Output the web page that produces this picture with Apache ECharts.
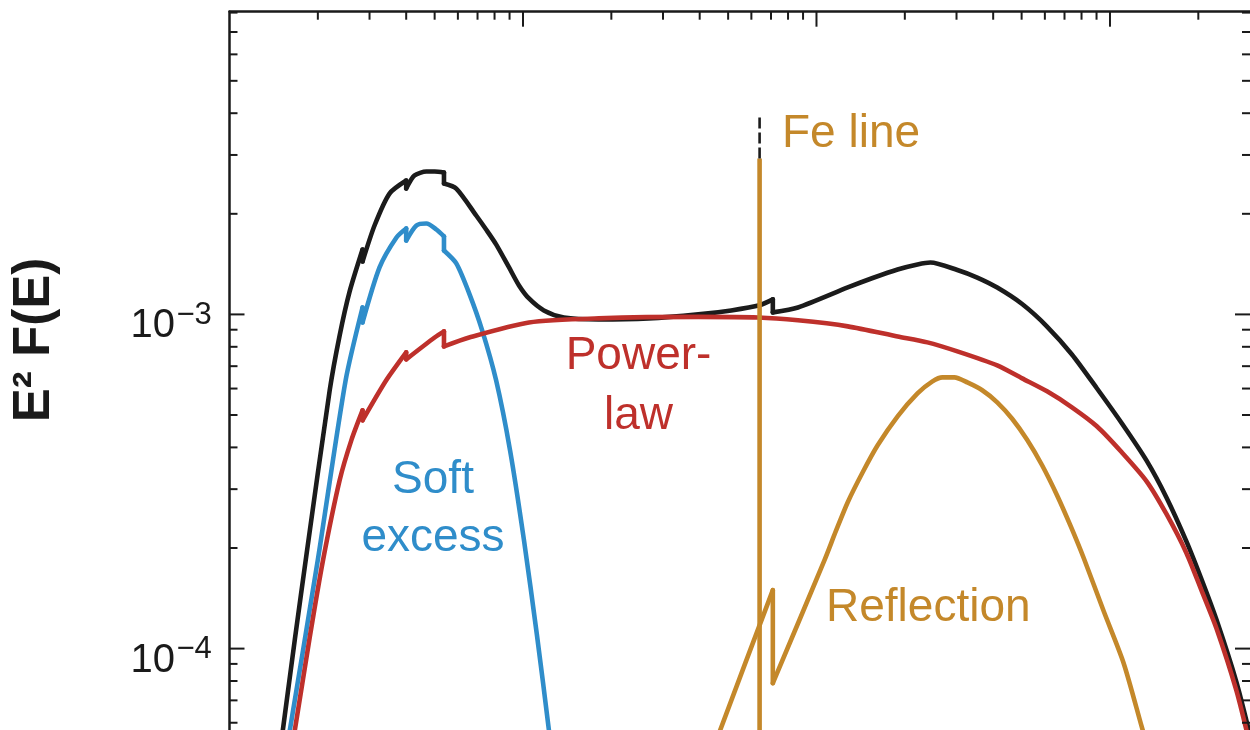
<!DOCTYPE html>
<html>
<head>
<meta charset="utf-8">
<script src="https://cdn.jsdelivr.net/npm/echarts@6/dist/echarts.min.js"></script>
<style>
  html, body { margin: 0; padding: 0; background: #ffffff; overflow: hidden; }
  /* the plot continues below the visible window, so the canvas is taller than the view */
  #chart { width: 1250px; height: 830px; }
</style>
</head>
<body>
<div id="chart"></div>
<script>
// Spectral decomposition: energy in keV, flux as E^2 F(E)
// A repeated energy marks an absorption edge (a vertical step in the curve).

// Total model (black)
const totalEnergy = [0.1428, 0.1520, 0.167, 0.1834, 0.2195, 0.2373, 0.2567, 0.284, 0.284, 0.3120, 0.3509,
  0.40, 0.40, 0.4266, 0.4687, 0.50, 0.538, 0.538, 0.5925, 0.6927, 0.7488, 0.8098, 0.8964, 0.9692,
  1.048, 1.178, 1.378, 1.811, 2.677, 3.958, 5.122, 6.4, 7.1, 7.1, 8.648, 12.78, 15.54, 18.9, 22.09,
  24.45, 30.2, 35.3, 41.29, 50.2, 61.04, 74.2, 90.2, 109.7, 133.3, 155.9, 182.3, 204.9, 230.5, 269.4, 300];
const totalFlux = [3.83e-5, 5.71e-5, 1.067e-4, 1.943e-4, 0.593e-3, 0.865e-3, 1.172e-3, 1.564e-3, 1.44e-3,
  1.845e-3, 2.299e-3, 2.515e-3, 2.38e-3, 2.603e-3, 2.676e-3, 2.676e-3, 2.657e-3, 2.464e-3, 2.38e-3,
  1.977e-3, 1.795e-3, 1.62e-3, 1.382e-3, 1.221e-3, 1.116e-3, 1.028e-3, 0.979e-3, 0.966e-3, 0.973e-3,
  1.0e-3, 1.028e-3, 1.065e-3, 1.109e-3, 1.014e-3, 1.049e-3, 1.204e-3, 1.285e-3, 1.363e-3, 1.411e-3,
  1.43e-3, 1.358e-3, 1.289e-3, 1.203e-3, 1.074e-3, 0.92e-3, 0.7588e-3, 0.6013e-3, 0.4725e-3,
  0.3651e-3, 0.2829e-3, 0.209e-3, 0.1615e-3, 0.1222e-3, 7.97e-5, 5.51e-5];

// Power-law continuum (red)
const powerEnergy = [0.1532, 0.1670, 0.1877, 0.2078, 0.2373, 0.2607, 0.284, 0.284, 0.342, 0.40, 0.40,
  0.50, 0.538, 0.538, 0.6556, 1.048, 1.811, 3.958, 6.326, 8.648, 12.78, 18.9, 23.88, 30.2, 41.29,
  50.2, 61.04, 74.2, 90.2, 109.7, 133.3, 155.9, 182.3, 204.9, 230.5, 269.4, 300];
const powerFlux = [3.6e-5, 5.71e-5, 1.082e-4, 1.819e-4, 3.189e-4, 4.228e-4, 5.164e-4, 4.82e-4, 6.35e-4,
  7.697e-4, 7.337e-4, 8.53e-4, 8.896e-4, 8.02e-4, 8.53e-4, 9.46e-4, 9.73e-4, 9.83e-4, 9.79e-4,
  9.6e-4, 9.21e-4, 8.59e-4, 8.248e-4, 7.752e-4, 7.039e-4, 6.436e-4, 5.885e-4, 5.272e-4, 4.627e-4,
  3.867e-4, 3.167e-4, 2.524e-4, 1.93e-4, 1.496e-4, 1.151e-4, 7.51e-5, 5.15e-5];

// Soft excess (blue)
const softEnergy = [0.1474, 0.1606, 0.1999, 0.2487, 0.284, 0.284, 0.3245, 0.3706, 0.40, 0.40, 0.4334,
  0.4687, 0.5068, 0.538, 0.538, 0.5925, 0.6556, 0.7259, 0.8099, 0.9035, 1.0078, 1.1157, 1.2254, 1.3044];
const softFlux = [3.6e-5, 5.71e-5, 1.839e-4, 6.35e-4, 1.049e-3, 0.946e-3, 1.382e-3, 1.699e-3, 1.807e-3,
  1.664e-3, 1.846e-3, 1.871e-3, 1.795e-3, 1.711e-3, 1.553e-3, 1.421e-3, 1.156e-3, 0.896e-3, 0.635e-3,
  0.3921e-3, 0.211e-3, 0.1097e-3, 5.71e-5, 3.52e-5];

// Reflection hump (gold)
const reflEnergy = [3.86, 4.70, 7.1, 7.1, 10.65, 11.64, 12.78, 14.37, 16.16, 18.9, 22.09, 24.84, 26.86,
  29.50, 32.66, 36.71, 41.29, 46.42, 52.2, 58.71, 66.0, 73.6, 81.5, 95.3, 111.4, 128.2, 147.5];
const reflFlux = [3.52e-5, 5.71e-5, 1.496e-4, 7.88e-5, 1.84e-4, 2.245e-4, 2.742e-4, 3.37e-4, 4.058e-4,
  4.955e-4, 5.803e-4, 6.305e-4, 6.48e-4, 6.48e-4, 6.26e-4, 5.93e-4, 5.456e-4, 4.871e-4, 4.214e-4,
  3.537e-4, 2.877e-4, 2.316e-4, 1.86e-4, 1.291e-4, 9.03e-5, 5.85e-5, 3.79e-5];

// Fe K line (gold) and the part of the total that rises above it (black, dashed)
const feEnergy = [6.4, 6.4];
const feFlux = [1e-5, 2.93e-3];
const totalPeakEnergy = [6.4, 6.4];
const totalPeakFlux = [2.93e-3, 3.94e-3];

// Axis ranges and labelled decades
const xMin = 0.1, xMax = 300;
const yMin = Math.pow(10, -4.5), yMax = 8.05e-3;
const yTickValues = [1e-4, 1e-3];
const yTickLabels = [['10', '\u22124'], ['10', '\u22123']];

const COLORS = {
  total: '#1b1b1b',
  power: '#be302b',
  soft: '#2f8dca',
  refl: '#c4882a'
};
const FONT = '"Liberation Sans", Arial, Helvetica, sans-serif';
const LINE_W = 4.6;
const SMOOTH = 0.25;

// Frame ticks: left/right for flux decades, top for energy decades
const frameTicks = [];
for (let k = -5; k <= -2; k++) {
  for (let m = 1; m <= 9; m++) {
    const v = m * Math.pow(10, k);
    if (v > yMin && v < yMax) frameTicks.push([xMin, v, m === 1 ? 1 : 0]);
  }
}
for (let k = -1; k <= 2; k++) {
  for (let m = 1; m <= 9; m++) {
    const v = m * Math.pow(10, k);
    if (v > xMin * 1.0001 && v < xMax) frameTicks.push([v, yMax, m === 1 ? 3 : 2]);
  }
}

function renderTick(params, api) {
  const kind = api.value(2);
  const style = { stroke: '#1a1a1a', lineWidth: 2 };
  if (kind < 2) {
    const len = kind === 1 ? 15 : 8;
    const yv = api.value(1);
    const a = api.coord([xMin, yv]);
    const b = api.coord([xMax, yv]);
    return {
      type: 'group',
      children: [
        { type: 'line', shape: { x1: a[0], y1: a[1], x2: a[0] + len, y2: a[1] }, style: style },
        { type: 'line', shape: { x1: b[0], y1: b[1], x2: b[0] - len, y2: b[1] }, style: style }
      ]
    };
  }
  const len = kind === 3 ? 15 : 8;
  const p = api.coord([api.value(0), yMax]);
  return { type: 'line', shape: { x1: p[0], y1: p[1], x2: p[0], y2: p[1] + len }, style: style };
}

function renderTickLabel(params, api) {
  const p = api.coord([xMin, api.value(1)]);
  const lab = yTickLabels[api.value(2)];
  return {
    type: 'group',
    children: [
      { type: 'text', x: p[0] - 54.5, y: p[1] + 12,
        style: { text: lab[0], font: '40px ' + FONT, fill: '#1a1a1a', align: 'right', verticalAlign: 'middle' } },
      { type: 'text', x: p[0] - 53, y: p[1] + 1,
        style: { text: lab[1], font: '31px ' + FONT, fill: '#1a1a1a', align: 'left', verticalAlign: 'middle' } }
    ]
  };
}

function lineSeries(name, data, color, z, smooth) {
  return {
    name: name,
    type: 'line',
    data: data,
    showSymbol: false,
    symbol: 'none',
    smooth: smooth,
    z: z,
    lineStyle: { color: color, width: LINE_W, cap: 'round', join: 'round' },
    animation: false,
    silent: true
  };
}

// A spectrum is drawn as smooth pieces between edges, joined by straight vertical steps
function spectrum(name, xs, ys, color, z) {
  const out = [];
  let piece = [];
  for (let i = 0; i < xs.length; i++) {
    const p = [xs[i], ys[i]];
    if (i > 0 && xs[i] === xs[i - 1]) {
      out.push(lineSeries(name, piece, color, z, SMOOTH));
      out.push(lineSeries(name + ' edge', [piece[piece.length - 1], p], color, z, false));
      piece = [p];
    } else {
      piece.push(p);
    }
  }
  out.push(lineSeries(name, piece, color, z, SMOOTH));
  return out;
}

const pairs = (xs, ys) => xs.map((x, i) => [x, ys[i]]);

const feSeries = lineSeries('Fe line', pairs(feEnergy, feFlux), COLORS.refl, 6, false);
feSeries.lineStyle.cap = 'butt';
const peakSeries = lineSeries('Total peak', pairs(totalPeakEnergy, totalPeakFlux), COLORS.total, 6, false);
peakSeries.lineStyle = { color: COLORS.total, width: 2.6, type: [11, 4], cap: 'butt' };

const chart = echarts.init(document.getElementById('chart'), null, { renderer: 'canvas' });

chart.setOption({
  backgroundColor: '#ffffff',
  animation: false,
  grid: { left: 229.5, top: 11.7, width: 1024.2, height: 804, containLabel: false },
  xAxis: {
    type: 'log',
    logBase: 10,
    min: xMin,
    max: xMax,
    position: 'top',
    axisLine: { show: true, lineStyle: { color: '#1a1a1a', width: 2.5 } },
    axisTick: { show: false },
    axisLabel: { show: false },
    splitLine: { show: false }
  },
  yAxis: {
    type: 'log',
    logBase: 10,
    min: yMin,
    max: yMax,
    axisLine: { show: true, lineStyle: { color: '#1a1a1a', width: 2.5 } },
    axisTick: { show: false },
    axisLabel: { show: false },
    splitLine: { show: false }
  },
  series: [].concat(
    spectrum('Total', totalEnergy, totalFlux, COLORS.total, 2),
    spectrum('Soft excess', softEnergy, softFlux, COLORS.soft, 3),
    spectrum('Power-law', powerEnergy, powerFlux, COLORS.power, 4),
    spectrum('Reflection', reflEnergy, reflFlux, COLORS.refl, 5),
    [feSeries, peakSeries],
    [
      {
        type: 'custom',
        name: 'ticks',
        data: frameTicks,
        renderItem: renderTick,
        silent: true,
        animation: false,
        z: 10
      },
      {
        type: 'custom',
        name: 'tick labels',
        data: yTickValues.map((v, i) => [xMin, v, i]),
        renderItem: renderTickLabel,
        silent: true,
        animation: false,
        clip: false,
        z: 10
      }
    ]
  ),
  graphic: [
    { type: 'text', x: 35, y: 340, rotation: Math.PI / 2,
      style: { text: 'E\u00B2 F(E)', font: 'bold 51px ' + FONT, fill: '#1a1a1a', align: 'center', verticalAlign: 'middle' } },
    { type: 'text', x: 782, y: 134,
      style: { text: 'Fe line', font: '46px ' + FONT, fill: COLORS.refl, align: 'left', verticalAlign: 'middle' } },
    { type: 'text', x: 638.5, y: 356,
      style: { text: 'Power-', font: '46px ' + FONT, fill: COLORS.power, align: 'center', verticalAlign: 'middle' } },
    { type: 'text', x: 638.5, y: 416,
      style: { text: 'law', font: '46px ' + FONT, fill: COLORS.power, align: 'center', verticalAlign: 'middle' } },
    { type: 'text', x: 433, y: 480,
      style: { text: 'Soft', font: '46px ' + FONT, fill: COLORS.soft, align: 'center', verticalAlign: 'middle' } },
    { type: 'text', x: 433, y: 538,
      style: { text: 'excess', font: '46px ' + FONT, fill: COLORS.soft, align: 'center', verticalAlign: 'middle' } },
    { type: 'text', x: 826, y: 608,
      style: { text: 'Reflection', font: '46px ' + FONT, fill: COLORS.refl, align: 'left', verticalAlign: 'middle' } }
  ]
});
</script>
</body>
</html>
